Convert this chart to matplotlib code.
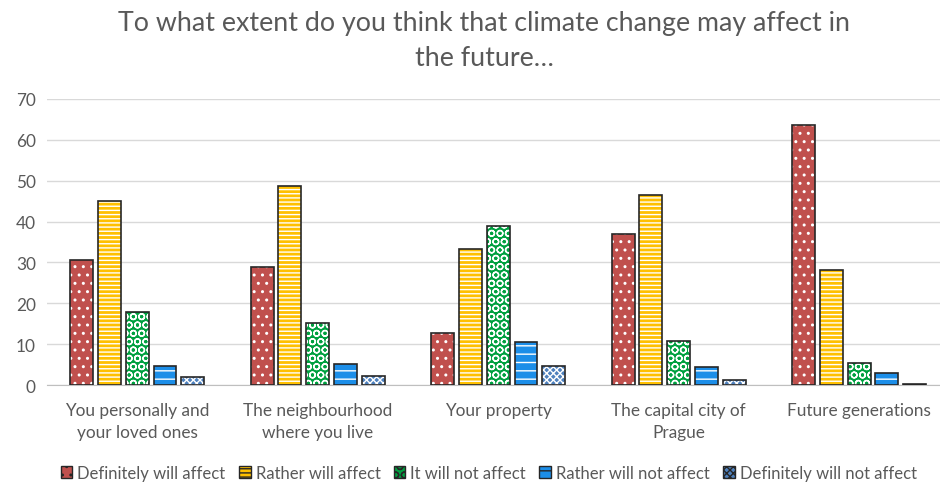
import numpy as np
import matplotlib.pyplot as plt
import matplotlib.patches as mpatches

plt.rcParams['font.family'] = ['Lato', 'DejaVu Sans']

categories = ['You personally and\nyour loved ones', 'The neighbourhood\nwhere you live',
              'Your property', 'The capital city of\nPrague', 'Future generations']
series = ['Definitely will affect', 'Rather will affect', 'It will not affect',
          'Rather will not affect', 'Definitely will not affect']
definitely = [30.6, 28.9, 12.7, 37.0, 63.6]
rather = [45.0, 48.7, 33.3, 46.5, 28.1]
not_affect = [17.9, 15.2, 38.9, 10.8, 5.4]
rather_not = [4.7, 5.1, 10.5, 4.4, 2.9]
definitely_not = [2.0, 2.3, 4.6, 1.2, 0.3]
values = [definitely, rather, not_affect, rather_not, definitely_not]

colors = ['#C0504D', '#FFC000', '#00A040', '#1C8EE8', '#4F81BD']
hatches = ['..', '----', 'OO', '--', 'xxxxx']
text_col = '#595959'

fig = plt.figure(figsize=(9.4, 4.85), dpi=100)
ax = fig.add_axes([0.05, 0.204, 0.96, 0.59])

x = np.arange(len(categories))
step = 0.154
width = 0.127
for i, (vals, c, h) in enumerate(zip(values, colors, hatches)):
    pos = x + (i - 2) * step
    ax.bar(pos, vals, width, color=c, edgecolor='white', hatch=h, linewidth=0, zorder=2)
    ax.bar(pos, vals, width, fill=False, edgecolor='#262626', linewidth=1.2, zorder=3)

ax.set_xlim(-0.5, 4.5)
ax.set_ylim(0, 70)
ax.set_yticks(range(0, 71, 10))
ax.set_xticks(x)
ax.set_xticklabels(categories, fontsize=12.4, color=text_col, linespacing=1.45)
ax.tick_params(axis='y', labelsize=12.4, labelcolor=text_col, length=0, pad=8)
ax.tick_params(axis='x', length=0, pad=12)
ax.grid(axis='y', color='#D9D9D9', linewidth=1, zorder=0)
for s in ['top', 'right', 'left']:
    ax.spines[s].set_visible(False)
ax.spines['bottom'].set_color('#BFBFBF')
ax.set_axisbelow(True)

fig.text(0.515, 0.978, 'To what extent do you think that climate change may affect in\nthe future…',
         ha='center', va='top', fontsize=19.3, color=text_col, linespacing=1.5)

handles = [mpatches.Patch(facecolor=c, edgecolor='#262626', hatch=h) for c, h in zip(colors, hatches)]
fig.legend(handles, series, loc='center', bbox_to_anchor=(0.52, 0.023), ncol=5, frameon=False,
           fontsize=12, labelcolor=text_col, handlelength=0.7, handleheight=0.7,
           handletextpad=0.3, columnspacing=0.8)

fig.savefig('out.png', dpi=100)
